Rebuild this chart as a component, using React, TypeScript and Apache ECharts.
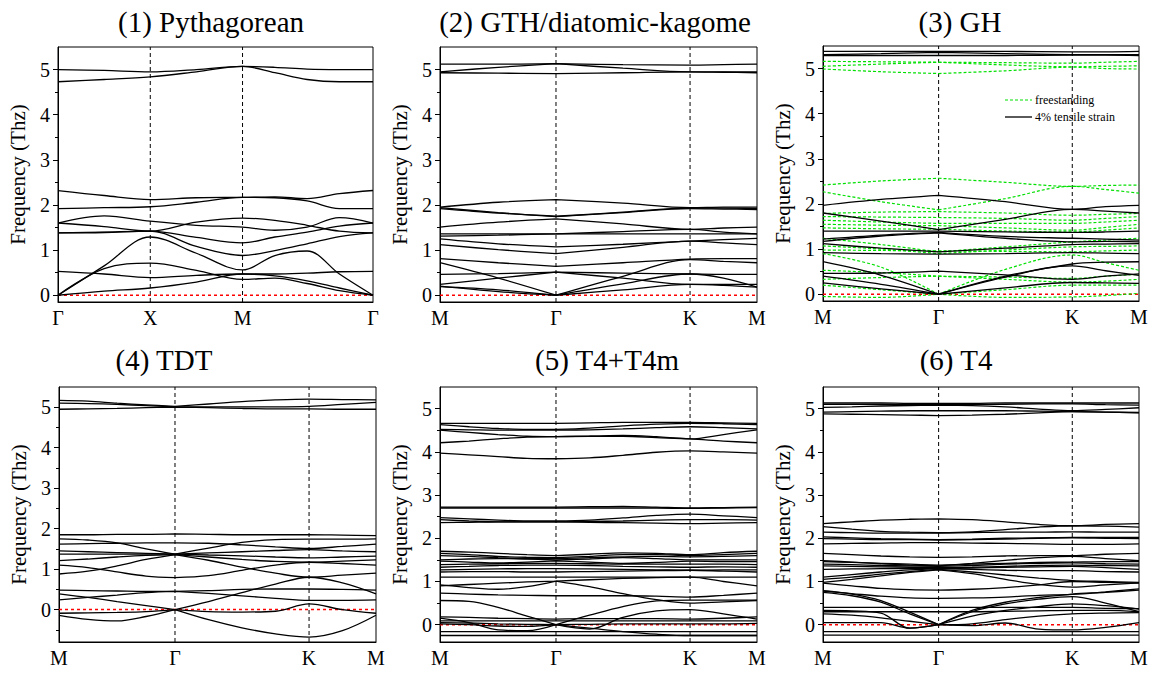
import React, { useEffect, useRef } from 'react';
import * as echarts from 'echarts';

const FONT = 'Liberation Serif';

// ---------- path coordinates & tick labels ----------
const SQ_TICKS = [0, 1, 2, 3.414];
const SQ_LABELS = ['Γ', 'X', 'M', 'Γ'];
const HEX_TICKS = [0, 0.577, 1.244, 1.577];
const HEX_LABELS = ['M', 'Γ', 'K', 'M'];

const TITLES = ['(1) Pythagorean', '(2) GTH/diatomic-kagome', '(3) GH', '(4) TDT', '(5) T4+T4m', '(6) T4'];
const Y_MIN = [-0.15, -0.15, -0.15, -0.8, -0.4, -0.4];
const Y_MAX = 5.5;
const Y_LABELS = [0, 1, 2, 3, 4, 5];
const Y_MINOR = [-0.5, 0.5, 1.5, 2.5, 3.5, 4.5];
const LEGEND_NAMES = ['freestanding', '4% tensile strain'];

// ---------- (1) Pythagorean ----------
const P1_K = [0, 0.5, 1, 1.5, 2, 2.35, 2.7, 3.05, 3.414];
const P1_BANDS = [
  [5.0, 4.98, 4.95, 5.0, 5.07, 5.05, 5.01, 5.0, 5.0],
  [4.73, 4.78, 4.84, 4.95, 5.07, 4.93, 4.78, 4.73, 4.73],
  [2.32, 2.21, 2.12, 2.16, 2.17, 2.18, 2.14, 2.25, 2.32],
  [1.92, 1.94, 1.96, 2.06, 2.17, 2.16, 2.09, 1.92, 1.92],
  [1.6, 1.76, 1.64, 1.55, 1.51, 1.44, 1.51, 1.72, 1.6],
  [1.6, 1.52, 1.42, 1.62, 1.71, 1.66, 1.55, 1.42, 1.38],
  [1.38, 1.39, 1.42, 1.28, 1.16, 1.29, 1.4, 1.53, 1.6],
  [1.38, 1.4, 1.42, 1.08, 0.88, 0.99, 1.14, 1.3, 1.38],
  [0.0, 0.65, 1.29, 0.93, 0.56, 0.88, 0.98, 0.47, 0.0],
  [0.53, 0.47, 0.39, 0.44, 0.47, 0.47, 0.49, 0.52, 0.53],
  [0.0, 0.59, 0.71, 0.55, 0.35, 0.38, 0.26, 0.1, 0.0],
  [0.0, 0.09, 0.16, 0.29, 0.47, 0.43, 0.32, 0.16, 0.0],
];

// ---------- (2) GTH/diatomic-kagome ----------
const P2_K = [0, 0.29, 0.577, 0.91, 1.244, 1.41, 1.577];
const P2_BANDS = [
  [5.12, 5.12, 5.13, 5.11, 5.1, 5.11, 5.12],
  [4.95, 5.05, 5.13, 5.03, 4.95, 4.95, 4.95],
  [4.93, 4.92, 4.91, 4.93, 4.95, 4.94, 4.93],
  [1.95, 2.06, 2.12, 2.04, 1.94, 1.95, 1.95],
  [1.92, 1.82, 1.75, 1.84, 1.93, 1.93, 1.92],
  [1.94, 1.83, 1.74, 1.83, 1.92, 1.91, 1.9],
  [1.51, 1.62, 1.69, 1.58, 1.46, 1.49, 1.51],
  [1.36, 1.36, 1.36, 1.36, 1.36, 1.36, 1.36],
  [1.31, 1.33, 1.36, 1.41, 1.46, 1.4, 1.36],
  [1.25, 1.14, 1.07, 1.13, 1.2, 1.23, 1.26],
  [1.12, 1.01, 0.92, 1.06, 1.2, 1.16, 1.12],
  [0.81, 0.72, 0.64, 0.72, 0.8, 0.81, 0.81],
  [0.72, 0.38, 0.0, 0.42, 0.79, 0.75, 0.72],
  [0.46, 0.48, 0.51, 0.49, 0.47, 0.46, 0.46],
  [0.24, 0.38, 0.51, 0.38, 0.24, 0.24, 0.24],
  [0.19, 0.12, 0.0, 0.25, 0.47, 0.38, 0.18],
  [0.2, 0.08, 0.0, 0.12, 0.24, 0.22, 0.18],
];

// ---------- (3) GH ----------
const P3_K = [0, 0.29, 0.577, 0.91, 1.244, 1.41, 1.577];
const P3_STRAIN = [
  [5.38, 5.38, 5.38, 5.38, 5.37, 5.37, 5.38],
  [5.31, 5.33, 5.36, 5.33, 5.31, 5.31, 5.31],
  [5.29, 5.29, 5.29, 5.29, 5.3, 5.3, 5.29],
  [1.97, 2.1, 2.19, 2.05, 1.88, 1.94, 1.97],
  [1.8, 1.62, 1.43, 1.66, 1.88, 1.84, 1.8],
  [1.4, 1.4, 1.4, 1.38, 1.37, 1.38, 1.4],
  [1.22, 1.31, 1.37, 1.28, 1.24, 1.22, 1.2],
  [1.17, 1.29, 1.36, 1.24, 1.16, 1.17, 1.16],
  [1.12, 1.02, 0.94, 1.02, 1.1, 1.11, 1.12],
  [0.92, 0.9, 0.89, 0.9, 0.92, 0.91, 0.9],
  [0.72, 0.42, 0.0, 0.4, 0.67, 0.71, 0.72],
  [0.46, 0.47, 0.51, 0.43, 0.33, 0.4, 0.45],
  [0.4, 0.22, 0.0, 0.38, 0.63, 0.52, 0.42],
  [0.25, 0.12, 0.0, 0.14, 0.26, 0.25, 0.24],
];
const P3_FREE = [
  [5.16, 5.15, 5.14, 5.13, 5.12, 5.14, 5.16],
  [5.05, 5.1, 5.14, 5.08, 5.04, 5.05, 5.06],
  [4.99, 4.93, 4.89, 4.95, 5.03, 5.0, 4.99],
  [2.42, 2.51, 2.57, 2.48, 2.39, 2.41, 2.42],
  [2.27, 2.05, 1.87, 2.12, 2.39, 2.32, 2.24],
  [1.79, 1.82, 1.83, 1.8, 1.75, 1.77, 1.79],
  [1.72, 1.71, 1.7, 1.68, 1.64, 1.68, 1.72],
  [1.64, 1.6, 1.57, 1.57, 1.57, 1.6, 1.64],
  [1.55, 1.53, 1.52, 1.47, 1.42, 1.48, 1.55],
  [1.47, 1.45, 1.44, 1.4, 1.38, 1.42, 1.47],
  [1.24, 1.1, 0.94, 1.05, 1.16, 1.2, 1.24],
  [1.07, 1.0, 0.9, 0.98, 1.05, 1.06, 1.07],
  [0.98, 0.97, 0.96, 0.95, 0.94, 0.96, 0.98],
  [0.9, 0.6, 0.0, 0.55, 0.87, 0.7, 0.53],
  [0.53, 0.48, 0.4, 0.38, 0.35, 0.4, 0.44],
  [0.33, 0.37, 0.4, 0.33, 0.27, 0.29, 0.33],
  [0.2, 0.1, 0.0, 0.1, 0.2, 0.2, 0.2],
  [-0.05, -0.07, 0.0, -0.07, -0.06, -0.03, 0.02],
];

// ---------- (4) TDT ----------
const P4_K = [0, 0.144, 0.289, 0.433, 0.577, 0.744, 0.91, 1.077, 1.244, 1.41, 1.577];
const P4_BANDS = [
  [5.17, 5.15, 5.1, 5.06, 5.02, 5.08, 5.14, 5.18, 5.2, 5.19, 5.18],
  [5.1, 5.09, 5.07, 5.04, 5.01, 5.01, 5.01, 5.01, 5.02, 5.07, 5.12],
  [4.95, 4.96, 4.97, 4.99, 5.0, 4.99, 4.97, 4.96, 4.96, 4.95, 4.95],
  [1.85, 1.85, 1.86, 1.86, 1.87, 1.86, 1.85, 1.85, 1.85, 1.84, 1.83],
  [1.75, 1.72, 1.65, 1.5, 1.37, 1.52, 1.66, 1.73, 1.74, 1.74, 1.75],
  [1.62, 1.63, 1.64, 1.65, 1.65, 1.64, 1.6, 1.55, 1.51, 1.56, 1.62],
  [1.45, 1.43, 1.41, 1.39, 1.37, 1.4, 1.43, 1.46, 1.48, 1.45, 1.43],
  [1.37, 1.37, 1.37, 1.37, 1.37, 1.35, 1.33, 1.3, 1.28, 1.3, 1.32],
  [1.21, 1.25, 1.3, 1.34, 1.36, 1.3, 1.24, 1.19, 1.17, 1.2, 1.23],
  [0.88, 0.95, 1.08, 1.24, 1.36, 1.22, 1.05, 0.9, 0.8, 0.85, 0.9],
  [1.1, 1.04, 0.93, 0.83, 0.79, 0.84, 0.97, 1.1, 1.17, 1.14, 1.1],
  [0.48, 0.47, 0.46, 0.45, 0.45, 0.47, 0.5, 0.51, 0.51, 0.5, 0.48],
  [0.39, 0.3, 0.2, 0.1, 0.0, 0.2, 0.42, 0.63, 0.8, 0.66, 0.39],
  [0.24, 0.3, 0.36, 0.42, 0.45, 0.4, 0.34, 0.28, 0.23, 0.23, 0.24],
  [-0.09, -0.08, -0.07, -0.05, 0.0, -0.05, -0.06, -0.04, 0.14, 0.0, -0.09],
  [-0.14, -0.24, -0.28, -0.17, 0.0, -0.25, -0.45, -0.6, -0.68, -0.52, -0.14],
];

// ---------- (5) T4+T4m ----------
const P5_K = [0, 0.144, 0.289, 0.433, 0.577, 0.744, 0.91, 1.077, 1.244, 1.41, 1.577];
const P5_BANDS = [
  [4.66, 4.66, 4.66, 4.66, 4.66, 4.67, 4.68, 4.68, 4.68, 4.67, 4.66],
  [4.63, 4.58, 4.54, 4.52, 4.52, 4.55, 4.6, 4.64, 4.66, 4.65, 4.63],
  [4.52, 4.51, 4.5, 4.5, 4.5, 4.51, 4.53, 4.56, 4.58, 4.56, 4.53],
  [4.5, 4.45, 4.4, 4.36, 4.35, 4.36, 4.38, 4.35, 4.3, 4.4, 4.51],
  [4.21, 4.25, 4.3, 4.34, 4.35, 4.36, 4.36, 4.33, 4.3, 4.25, 4.21],
  [3.97, 3.93, 3.89, 3.85, 3.84, 3.86, 3.92, 3.99, 4.02, 4.0, 3.97],
  [2.72, 2.72, 2.72, 2.72, 2.72, 2.73, 2.74, 2.72, 2.7, 2.71, 2.72],
  [2.7, 2.7, 2.7, 2.7, 2.7, 2.7, 2.7, 2.7, 2.69, 2.7, 2.71],
  [2.48, 2.45, 2.42, 2.4, 2.4, 2.42, 2.47, 2.53, 2.56, 2.52, 2.48],
  [2.43, 2.4, 2.38, 2.38, 2.38, 2.39, 2.4, 2.42, 2.43, 2.43, 2.42],
  [2.36, 2.37, 2.38, 2.38, 2.38, 2.37, 2.36, 2.35, 2.34, 2.35, 2.36],
  [1.7, 1.68, 1.65, 1.62, 1.6, 1.63, 1.66, 1.65, 1.62, 1.67, 1.7],
  [1.65, 1.62, 1.58, 1.56, 1.55, 1.58, 1.62, 1.62, 1.6, 1.62, 1.65],
  [1.6, 1.58, 1.55, 1.53, 1.53, 1.55, 1.57, 1.58, 1.57, 1.58, 1.6],
  [1.5, 1.52, 1.53, 1.52, 1.5, 1.52, 1.55, 1.53, 1.5, 1.5, 1.5],
  [1.47, 1.45, 1.43, 1.45, 1.48, 1.45, 1.42, 1.44, 1.47, 1.46, 1.46],
  [1.39, 1.4, 1.41, 1.42, 1.42, 1.41, 1.4, 1.4, 1.4, 1.4, 1.39],
  [1.33, 1.35, 1.37, 1.38, 1.38, 1.37, 1.35, 1.34, 1.33, 1.34, 1.33],
  [1.27, 1.28, 1.29, 1.3, 1.3, 1.29, 1.28, 1.27, 1.26, 1.27, 1.27],
  [1.22, 1.23, 1.23, 1.22, 1.22, 1.23, 1.24, 1.25, 1.26, 1.24, 1.22],
  [1.1, 1.1, 1.1, 1.1, 1.1, 1.1, 1.1, 1.1, 1.1, 1.1, 1.1],
  [0.9, 0.93, 0.96, 0.99, 1.01, 1.04, 1.07, 1.09, 1.1, 1.0, 0.9],
  [0.92, 0.86, 0.82, 0.88, 1.01, 0.88, 0.72, 0.58, 0.5, 0.53, 0.56],
  [0.73, 0.71, 0.69, 0.68, 0.67, 0.67, 0.67, 0.66, 0.64, 0.68, 0.73],
  [0.56, 0.54, 0.4, 0.2, 0.0, 0.22, 0.42, 0.55, 0.57, 0.57, 0.57],
  [0.18, 0.17, 0.15, 0.14, 0.13, 0.14, 0.14, 0.14, 0.13, 0.15, 0.18],
  [0.09, 0.09, 0.09, 0.09, 0.09, 0.09, 0.09, 0.09, 0.09, 0.09, 0.09],
  [0.15, 0.05, -0.12, -0.14, 0.0, -0.1, 0.17, 0.32, 0.35, 0.25, 0.13],
  [0.05, 0.04, 0.02, 0.01, 0.0, 0.01, 0.02, 0.02, 0.02, 0.02, 0.03],
  [0.02, 0.0, -0.03, -0.04, 0.0, -0.08, -0.16, -0.22, -0.25, -0.25, -0.25],
  [-0.16, -0.16, -0.16, -0.16, -0.16, -0.16, -0.16, -0.16, -0.16, -0.16, -0.16],
  [-0.25, -0.25, -0.25, -0.25, -0.25, -0.25, -0.25, -0.25, -0.25, -0.25, -0.25],
];

// ---------- (6) T4 ----------
const P6_K = [0, 0.144, 0.289, 0.433, 0.577, 0.744, 0.91, 1.077, 1.244, 1.41, 1.577];
const P6_BANDS = [
  [5.13, 5.13, 5.13, 5.12, 5.12, 5.12, 5.13, 5.13, 5.13, 5.13, 5.13],
  [5.1, 5.1, 5.1, 5.1, 5.1, 5.1, 5.1, 5.11, 5.11, 5.09, 5.08],
  [5.03, 5.04, 5.06, 5.07, 5.08, 5.07, 5.04, 4.99, 4.95, 4.98, 5.02],
  [4.92, 4.93, 4.94, 4.95, 4.95, 4.95, 4.95, 4.94, 4.93, 4.92, 4.91],
  [4.88, 4.87, 4.86, 4.85, 4.84, 4.85, 4.87, 4.9, 4.93, 4.92, 4.9],
  [2.34, 2.38, 2.42, 2.44, 2.45, 2.43, 2.38, 2.32, 2.29, 2.32, 2.34],
  [2.27, 2.21, 2.16, 2.14, 2.13, 2.15, 2.2, 2.26, 2.29, 2.28, 2.26],
  [2.14, 2.13, 2.12, 2.12, 2.12, 2.13, 2.14, 2.14, 2.15, 2.14, 2.14],
  [2.03, 2.01, 1.99, 1.98, 1.97, 1.98, 2.0, 2.01, 2.02, 2.02, 2.02],
  [1.99, 1.98, 1.97, 1.97, 1.96, 1.97, 1.98, 2.0, 2.01, 2.0, 1.99],
  [1.87, 1.88, 1.89, 1.9, 1.9, 1.89, 1.88, 1.87, 1.86, 1.86, 1.87],
  [1.65, 1.62, 1.59, 1.57, 1.56, 1.57, 1.59, 1.6, 1.6, 1.63, 1.65],
  [1.48, 1.45, 1.41, 1.38, 1.36, 1.42, 1.49, 1.55, 1.58, 1.53, 1.48],
  [1.46, 1.44, 1.42, 1.4, 1.38, 1.4, 1.42, 1.44, 1.45, 1.46, 1.46],
  [1.4, 1.39, 1.37, 1.36, 1.35, 1.37, 1.4, 1.42, 1.43, 1.41, 1.4],
  [1.36, 1.35, 1.34, 1.33, 1.32, 1.33, 1.35, 1.37, 1.38, 1.37, 1.36],
  [1.28, 1.29, 1.3, 1.3, 1.3, 1.31, 1.33, 1.34, 1.35, 1.32, 1.28],
  [1.1, 1.16, 1.22, 1.27, 1.3, 1.28, 1.26, 1.25, 1.25, 1.23, 1.22],
  [1.05, 1.1, 1.17, 1.23, 1.28, 1.22, 1.15, 1.08, 1.02, 1.0, 0.98],
  [0.98, 1.05, 1.13, 1.21, 1.27, 1.18, 1.05, 0.93, 0.87, 0.92, 0.97],
  [0.96, 0.9, 0.84, 0.81, 0.8, 0.82, 0.86, 0.92, 1.0, 0.98, 0.96],
  [0.78, 0.72, 0.66, 0.62, 0.61, 0.62, 0.64, 0.68, 0.7, 0.76, 0.83],
  [0.79, 0.71, 0.56, 0.29, 0.0, 0.33, 0.52, 0.63, 0.71, 0.75, 0.8],
  [0.75, 0.67, 0.52, 0.25, 0.0, 0.3, 0.48, 0.59, 0.65, 0.5, 0.3],
  [0.4, 0.4, 0.4, 0.4, 0.4, 0.4, 0.4, 0.4, 0.4, 0.38, 0.37],
  [0.25, 0.22, 0.16, 0.08, 0.0, 0.2, 0.33, 0.42, 0.48, 0.44, 0.36],
  [0.3, 0.3, 0.3, 0.3, 0.3, 0.3, 0.31, 0.32, 0.33, 0.33, 0.3],
  [0.33, 0.32, 0.27, -0.08, 0.0, -0.02, 0.04, -0.1, -0.12, -0.06, 0.05],
  [0.05, 0.05, 0.05, -0.08, 0.0, 0.02, 0.12, 0.2, 0.25, 0.27, 0.28],
  [-0.16, -0.16, -0.16, -0.16, -0.16, -0.16, -0.16, -0.16, -0.16, -0.16, -0.16],
  [-0.24, -0.24, -0.24, -0.24, -0.24, -0.24, -0.24, -0.24, -0.24, -0.24, -0.24],
];

// ---------- layout ----------
const GRIDS = [
  { left: 58, top: 47, width: 315, height: 255 },
  { left: 440, top: 47, width: 317, height: 255 },
  { left: 823, top: 46, width: 316, height: 255 },
  { left: 59, top: 387, width: 317, height: 255 },
  { left: 440, top: 387, width: 317, height: 255 },
  { left: 823, top: 387, width: 316, height: 255 },
];
const TITLE_POS = [
  [211, 22], [595, 22], [960, 22],
  [164, 360], [607, 360], [956, 360],
];

const GREEN = '#00e000';
const RED = '#ff0000';

// each band is split at the interior Γ point so the acoustic branches keep their cusp
function bandSeries(k: number[], bands: number[][], gi: number, color: string, dashed: boolean, breakAt: number) {
  return bands.map((b) => {
    const data: any[] = [];
    k.forEach((x, i) => {
      data.push([x, b[i]]);
      if (i === breakAt) {
        data.push([x, '-']);
        data.push([x, b[i]]);
      }
    });
    return {
      type: 'line',
      xAxisIndex: gi,
      yAxisIndex: gi * 2,
      data,
      connectNulls: false,
      smooth: 0.35,
      symbol: 'none',
      silent: true,
      z: 3,
      lineStyle: { color, width: dashed ? 1.2 : 1.3, type: dashed ? [3, 2] : 'solid' },
      itemStyle: { color },
    };
  });
}

function buildOption() {
  const ticks = [SQ_TICKS, HEX_TICKS, HEX_TICKS, HEX_TICKS, HEX_TICKS, HEX_TICKS];
  const labels = [SQ_LABELS, HEX_LABELS, HEX_LABELS, HEX_LABELS, HEX_LABELS, HEX_LABELS];

  const xAxis = ticks.map((t, i) => ({
    type: 'value',
    gridIndex: i,
    min: 0,
    max: t[t.length - 1],
    axisLine: { show: true, onZero: false, lineStyle: { color: '#000', width: 1 } },
    axisTick: { show: false },
    splitLine: { show: false },
    axisLabel: {
      customValues: t,
      showMinLabel: true,
      showMaxLabel: true,
      formatter: (v: number) => {
        const idx = t.findIndex((tv) => Math.abs(tv - v) < 1e-6);
        return idx >= 0 ? labels[i][idx] : '';
      },
      fontFamily: FONT,
      fontSize: 20,
      color: '#000',
      margin: 6,
    },
  }));

  const yAxis: any[] = [];
  GRIDS.forEach((_, i) => {
    const mn = Y_MIN[i];
    yAxis.push({
      type: 'value',
      gridIndex: i,
      min: mn,
      max: Y_MAX,
      name: 'Frequency (Thz)',
      nameLocation: 'middle',
      nameGap: 30,
      nameTextStyle: { fontFamily: FONT, fontSize: 21, color: '#000' },
      axisLine: { show: true, onZero: false, lineStyle: { color: '#000', width: 1 } },
      axisTick: { show: true, customValues: Y_LABELS, length: 5, lineStyle: { color: '#000' } },
      axisLabel: { customValues: Y_LABELS, fontFamily: FONT, fontSize: 20, color: '#000', margin: 8 },
      splitLine: { show: false },
    });
    yAxis.push({
      type: 'value',
      gridIndex: i,
      min: mn,
      max: Y_MAX,
      position: 'left',
      axisLine: { show: false, onZero: false },
      axisTick: { show: true, customValues: Y_MINOR.filter((v) => v > mn), length: 3, lineStyle: { color: '#000' } },
      axisLabel: { show: false },
      splitLine: { show: false },
    });
  });

  const series: any[] = [];
  ticks.forEach((t, i) => {
    const xMax = t[t.length - 1];
    t.slice(1, -1).forEach((v) => {
      series.push({
        type: 'line',
        xAxisIndex: i,
        yAxisIndex: i * 2,
        data: [[v, Y_MIN[i]], [v, Y_MAX]],
        symbol: 'none',
        silent: true,
        z: 1,
        lineStyle: { color: '#000', type: [4, 3], width: 1 },
      });
    });
    series.push({
      type: 'line',
      xAxisIndex: i,
      yAxisIndex: i * 2,
      data: [[0, 0], [xMax, 0]],
      symbol: 'none',
      silent: true,
      z: 2,
      lineStyle: { color: RED, type: [3, 3], width: 1.5 },
      itemStyle: { color: RED },
    });
  });

  series.push(...bandSeries(P1_K, P1_BANDS, 0, '#000', false, -1));
  series.push(...bandSeries(P2_K, P2_BANDS, 1, '#000', false, 2));
  series.push(...bandSeries(P3_K, P3_FREE, 2, GREEN, true, 2));
  series.push(...bandSeries(P3_K, P3_STRAIN, 2, '#000', false, 2));
  series.push(...bandSeries(P4_K, P4_BANDS, 3, '#000', false, 4));
  series.push(...bandSeries(P5_K, P5_BANDS, 4, '#000', false, 4));
  series.push(...bandSeries(P6_K, P6_BANDS, 5, '#000', false, 4));

  const graphic: any[] = TITLES.map((txt, i) => ({
    type: 'text',
    x: TITLE_POS[i][0],
    y: TITLE_POS[i][1],
    style: { text: txt, fontFamily: FONT, fontSize: 29, fill: '#000', align: 'center', verticalAlign: 'middle' },
  }));
  const legendY = [100, 117];
  graphic.push(
    { type: 'line', shape: { x1: 1005, y1: legendY[0], x2: 1032, y2: legendY[0] }, style: { stroke: GREEN, lineWidth: 1.2, lineDash: [3, 2] } },
    { type: 'line', shape: { x1: 1005, y1: legendY[1], x2: 1032, y2: legendY[1] }, style: { stroke: '#000', lineWidth: 1.3 } },
    { type: 'text', x: 1035, y: legendY[0], style: { text: LEGEND_NAMES[0], fontFamily: FONT, fontSize: 12, fill: '#000', align: 'left', verticalAlign: 'middle' } },
    { type: 'text', x: 1035, y: legendY[1], style: { text: LEGEND_NAMES[1], fontFamily: FONT, fontSize: 12, fill: '#000', align: 'left', verticalAlign: 'middle' } },
  );

  return {
    animation: false,
    backgroundColor: '#fff',
    color: ['#000'],
    textStyle: { fontFamily: FONT },
    grid: GRIDS.map((g) => ({ ...g, show: true, borderColor: '#000', borderWidth: 1, backgroundColor: 'transparent' })),
    xAxis,
    yAxis,
    graphic,
    series,
  };
}

export default function App() {
  const ref = useRef<HTMLDivElement>(null);
  useEffect(() => {
    if (!ref.current) return;
    const chart = echarts.init(ref.current, null, { renderer: 'svg' });
    chart.setOption(buildOption() as any);
    return () => chart.dispose();
  }, []);
  return (
    <div
      ref={ref}
      style={{ position: 'absolute', left: 0, top: 0, width: 1154, height: 675, background: '#fff' }}
    />
  );
}
